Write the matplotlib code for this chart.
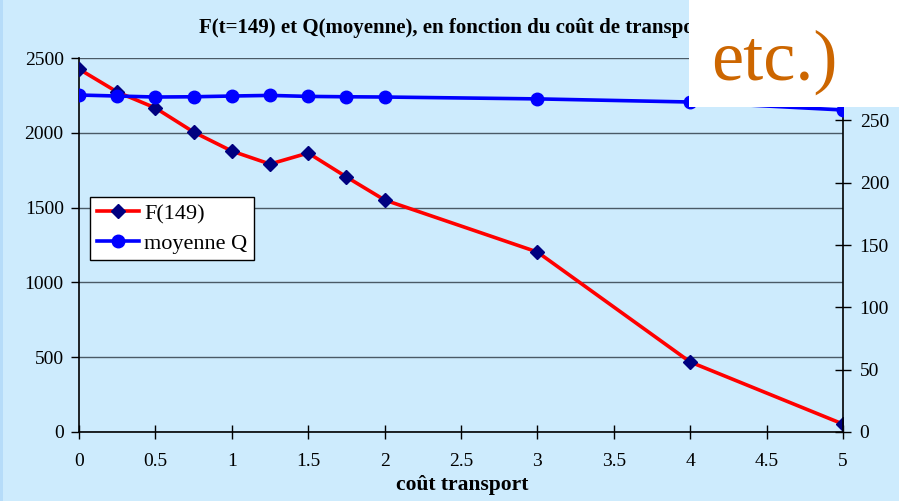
import matplotlib.pyplot as plt
from matplotlib.patches import Rectangle

# cost of transport (x axis)
cout = [0, 0.25, 0.5, 0.75, 1, 1.25, 1.5, 1.75, 2, 3, 4, 5]
# F at t=149 (left axis)
f149 = [2426, 2273, 2166, 2005, 1878, 1791, 1865, 1705, 1551, 1203, 468, 53]
# mean Q (right axis)
moy_q = [270.3, 269.5, 268.7, 268.9, 269.5, 270.0, 269.2, 268.9, 268.7, 267.2, 264.7, 258.3]

left_ticks = [0, 500, 1000, 1500, 2000, 2500]
right_ticks = [0, 50, 100, 150, 200, 250]
x_ticks = [0, 0.5, 1, 1.5, 2, 2.5, 3, 3.5, 4, 4.5, 5]

bg = '#cdebfd'
plt.rcParams['font.family'] = ['Liberation Serif', 'DejaVu Serif']

fig = plt.figure(figsize=(8.99, 5.01), dpi=100, facecolor=bg)
fig.patches.append(Rectangle((0, 0), 3 / 899, 1, transform=fig.transFigure,
                             facecolor='#b6dcf9', edgecolor='none', zorder=0))

ax = fig.add_axes([79 / 899, 69 / 501, 764 / 899, 374 / 501])
ax.set_facecolor(bg)
ax.set_xlim(0, 5)
ax.set_ylim(0, 2500)
ax.set_xticks(x_ticks)
ax.set_xticklabels([('%g' % v) for v in x_ticks])
ax.set_yticks(left_ticks)
ax.yaxis.grid(True, color='#4a5a66', linewidth=1.0)
ax.set_axisbelow(True)
for s in ['top', 'right']:
    ax.spines[s].set_visible(False)
for s in ['left', 'bottom']:
    ax.spines[s].set_linewidth(1.2)
ax.tick_params(axis='x', direction='inout', length=10, width=1, labelsize=14, pad=10)
ax.tick_params(axis='y', direction='out', length=6, width=1, labelsize=14, pad=5)

l1, = ax.plot(cout, f149, color='#ff0000', linewidth=2.6, marker='D', markersize=7,
              markerfacecolor='#000080', markeredgecolor='#000080', zorder=3)

ax2 = ax.twinx()
ax2.set_ylim(0, 300)
ax2.set_yticks(right_ticks)
for s in ['top', 'left', 'bottom']:
    ax2.spines[s].set_visible(False)
ax2.spines['right'].set_linewidth(1.2)
ax2.tick_params(axis='y', direction='inout', length=12, width=1, labelsize=14, pad=6)
l2, = ax2.plot(cout, moy_q, color='#0000ff', linewidth=2.6, marker='o', markersize=9,
               markerfacecolor='#0000ff', markeredgecolor='#0000ff', zorder=3)

leg = ax2.legend([l1, l2], ['F(149)', 'moyenne Q'], loc='upper left',
                 bbox_to_anchor=(11 / 764, 235 / 374), fontsize=16, frameon=True,
                 fancybox=False, edgecolor='black', framealpha=1, borderpad=0.3,
                 handlelength=1.9, handletextpad=0.25, labelspacing=0.4,
                 borderaxespad=0)
leg.get_frame().set_linewidth(1.0)

fig.text(199 / 899, 1 - 28 / 501, 'F(t=149) et Q(moyenne), en fonction du coût de transport',
         ha='left', va='center', fontsize=15, fontweight='bold')
fig.text(462 / 899, 1 - 485 / 501, 'coût transport', ha='center', va='center',
         fontsize=15.5, fontweight='bold')

# white overlay box with large text
fig.patches.append(Rectangle((689 / 899, 1 - 107 / 501), 210 / 899, 107 / 501,
                             transform=fig.transFigure, facecolor='white',
                             edgecolor='none', zorder=5))
fig.text(711 / 899, 1 - 80 / 501, 'etc.)', ha='left', va='baseline',
         fontsize=52, color='#cc6600', zorder=6)

fig.savefig('out.png', dpi=100, facecolor=bg)
